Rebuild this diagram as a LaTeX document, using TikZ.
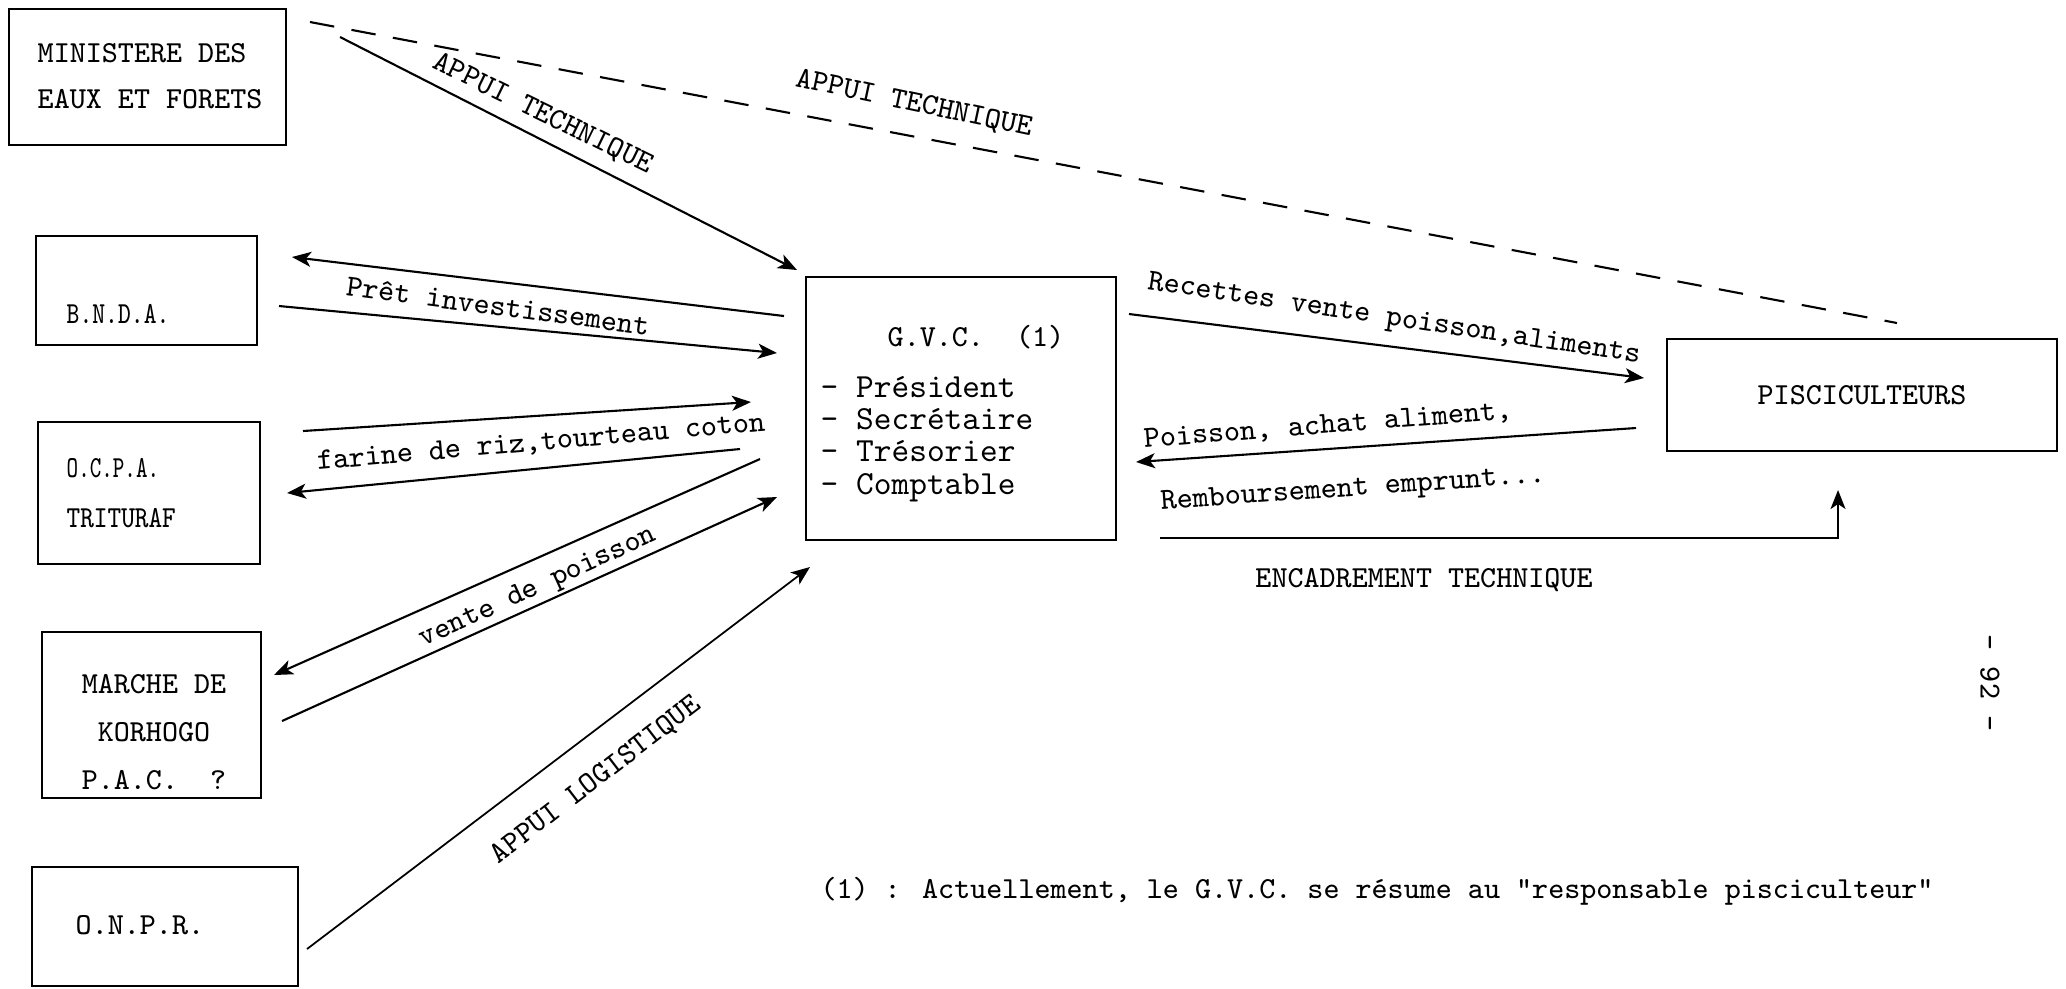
\documentclass[tikz,border=0pt]{standalone}
\usetikzlibrary{arrows.meta}
\newcommand\tyf[1]{\fontsize{8.7pt}{#1}\selectfont\ttfamily}
\newcommand\narrow[1]{\scalebox{0.8}[1]{#1}}
\begin{document}
\begin{tikzpicture}[x=0.1mm,y=-0.1mm,
  box/.style={draw, line width=0.65pt, inner sep=0pt},
  txt/.style={font={\tyf{13pt}}, inner sep=0pt, align=left},
  lbl/.style={font={\tyf{11pt}}, inner sep=0pt},
  arr/.style={line width=0.6pt, -{Stealth[length=1.9mm,width=1.5mm,inset=0.5mm]}},
  ln/.style={line width=0.6pt}]
\useasboundingbox (0,0) rectangle (2066,988);

% boxes
\node[box, minimum width=27.7mm, minimum height=13.6mm] (min) at (147.5,77) {};
\node[box, minimum width=22.1mm, minimum height=10.9mm] (bnda) at (146.5,290.5) {};
\node[box, minimum width=22.2mm, minimum height=14.2mm] (ocpa) at (149,493) {};
\node[box, minimum width=21.9mm, minimum height=16.6mm] (marc) at (151.5,715) {};
\node[box, minimum width=26.6mm, minimum height=11.9mm] (onpr) at (165,926.5) {};
\node[box, minimum width=31.0mm, minimum height=26.3mm] (gvc) at (961,408.5) {};
\node[box, minimum width=39.0mm, minimum height=11.2mm, font={\tyf{11pt}}] (pisc) at (1862,395) {PISCICULTEURS};

% box texts
\node[txt, anchor=west, font={\tyf{13.1pt}}] (mint) at (37,76) {MINISTERE DES\\EAUX ET FORETS};
\node[txt, anchor=west] (bndat) at (66,314) {\narrow{B.N.D.A.}};
\node[txt, anchor=west, font={\tyf{14.2pt}}] (ocpat) at (66,493) {\scalebox{0.72}[1]{O.C.P.A.}\\\scalebox{0.85}[1]{TRITURAF}};
\node[txt, align=center, font={\tyf{13.7pt}}] (marct) at (154,732) {MARCHE DE\\KORHOGO\\P.A.C.~~?};
\node[txt, anchor=west] (onprt) at (75,925) {O.N.P.R.};
\node[txt, anchor=west] (gvct) at (887,337) {G.V.C.~~(1)};
\node[txt, anchor=west, font={\fontsize{9.6pt}{9.2pt}\selectfont\ttfamily}] (gvcl) at (820,439)
  {- Président\\- Secrétaire\\- Trésorier\\- Comptable};

% connector end points
\coordinate (minA) at (340,37);   \coordinate (gvcA) at (797,270);
\coordinate (minB) at (310,22);   \coordinate (piscB) at (1897,323);
\coordinate (gvcC) at (784,316);  \coordinate (bndaC) at (292,257);
\coordinate (bndaD) at (279,306); \coordinate (gvcD) at (777,353);
\coordinate (ocpaE) at (303,431); \coordinate (gvcE) at (751,402);
\coordinate (gvcF) at (740,449);  \coordinate (ocpaF) at (287,493);
\coordinate (gvcG) at (760,459);  \coordinate (marcG) at (274,675);
\coordinate (marcH) at (282,721); \coordinate (gvcH) at (777,497);
\coordinate (onprI) at (307,949); \coordinate (gvcI) at (810,567);
\coordinate (gvcJ) at (1129,314); \coordinate (piscJ) at (1644,378);
\coordinate (piscK) at (1636,428);\coordinate (gvcK) at (1136,462);
\coordinate (gvcL) at (1160,538); \coordinate (piscL) at (1838,490);

% connectors
\draw[arr] (minA) -- (gvcA);
\draw[ln, dash pattern=on 7pt off 5pt] (minB) -- (piscB);
\draw[arr] (gvcC) -- (bndaC);
\draw[arr] (bndaD) -- (gvcD);
\draw[arr] (ocpaE) -- (gvcE);
\draw[arr] (gvcF) -- (ocpaF);
\draw[arr] (gvcG) -- (marcG);
\draw[arr] (marcH) -- (gvcH);
\draw[arr, line width=0.5pt] (onprI) -- (gvcI);
\draw[arr] (gvcJ) -- (piscJ);
\draw[arr] (piscK) -- (gvcK);
\draw[arr, line width=0.5pt] (gvcL) -| (piscL);

% connector labels
\node[lbl, rotate=-26] (la) at (543,114) {APPUI TECHNIQUE};
\node[lbl, rotate=-12] (lb) at (914,104) {APPUI TECHNIQUE};
\node[lbl, rotate=-7.5] (lc) at (498,306) {Prêt investissement};
\node[lbl, rotate=5] (le) at (541,443) {farine de riz,tourteau coton};
\node[lbl, rotate=24.5] (lg) at (538,588) {vente de poisson};
\node[lbl, rotate=37.5] (li) at (596,780) {APPUI LOGISTIQUE};
\node[lbl, rotate=-8.5] (lj) at (1394,320) {Recettes vente poisson,aliments};
\node[lbl, rotate=4.5] (lk) at (1328,426) {Poisson, achat aliment,};
\node[lbl, rotate=4] (lk2) at (1353,490) {Remboursement emprunt...};
\node[lbl] (ll) at (1424,580) {ENCADREMENT TECHNIQUE};

% footnote and page number
\node[lbl] (note) at (1377,891) {(1) : Actuellement, le G.V.C. se résume au "responsable pisciculteur"};
\node[lbl, rotate=-90] (page) at (1990,683) {- 92 -};
\end{tikzpicture}
\end{document}
